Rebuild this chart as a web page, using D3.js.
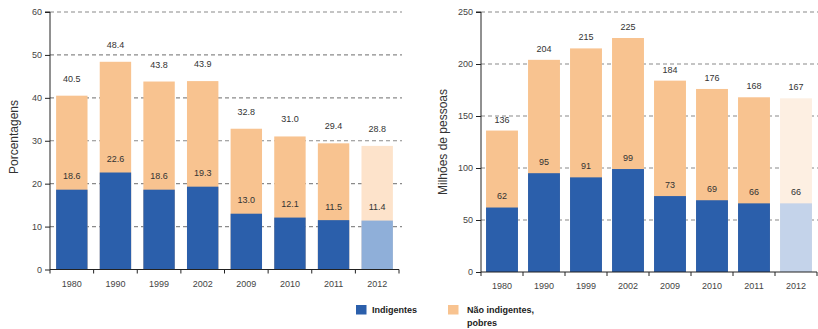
<!DOCTYPE html>
<html>
<head>
<meta charset="utf-8">
<script src="https://cdn.jsdelivr.net/npm/d3@7"></script>
<style>
  html, body { margin: 0; padding: 0; background: #fff; }
  svg { display: block; font-family: "Liberation Sans", Arial, sans-serif; }
</style>
</head>
<body>
<svg id="chart" width="818" height="329"></svg>
<script>
// Categories (years)
const years = ["1980", "1990", "1999", "2002", "2009", "2010", "2011", "2012"];

// Percentages of population
const pctIndigentes = [18.6, 22.6, 18.6, 19.3, 13.0, 12.1, 11.5, 11.4];
const pctPobresTotal = [40.5, 48.4, 43.8, 43.9, 32.8, 31.0, 29.4, 28.8];

// Millions of people
const milIndigentes = [62, 95, 91, 99, 73, 69, 66, 66];
const milPobresTotal = [136, 204, 215, 225, 184, 176, 168, 167];

// Axis ticks
const pctTicks = [0, 10, 20, 30, 40, 50, 60];
const milTicks = [0, 50, 100, 150, 200, 250];

// Labels
const pctFormat = d3.format(".1f");
const milFormat = d3.format("d");
const legendItems = [
  { key: "ind", lines: ["Indigentes"] },
  { key: "pob", lines: ["Não indigentes,", "pobres"] }
];

const COLORS = {
  ind: "#2b5fab",
  pob: "#f8c390",
  // projected year drawn in lighter tones (per panel)
  indProjLeft: "#8fafd9",
  pobProjLeft: "#fde3cb",
  indProjRight: "#c4d3ea",
  pobProjRight: "#fdefe2"
};

const svg = d3.select("#chart");

function drawPanel(opt) {
  const g = svg.append("g");
  const x = d3.scaleBand()
    .domain(years)
    .range([opt.x0, opt.x1])
    .paddingInner(opt.padInner)
    .paddingOuter(opt.padInner / 2);
  const y = d3.scaleLinear()
    .domain([0, opt.max])
    .range([opt.y0, opt.yTop]);

  // Dashed gridlines
  g.append("g").selectAll("line")
    .data(opt.ticks.filter(t => t > 0))
    .join("line")
    .attr("x1", opt.x0)
    .attr("x2", opt.gridEnd)
    .attr("y1", d => y(d))
    .attr("y2", d => y(d))
    .attr("stroke", "#8a8a8a")
    .attr("stroke-width", 1.2)
    .attr("stroke-dasharray", "4,3");

  const rows = years.map((yr, i) => ({
    yr, i,
    ind: opt.ind[i],
    tot: opt.tot[i],
    proj: i === years.length - 1
  }));

  // Poor (total) bars
  g.append("g").selectAll("rect")
    .data(rows)
    .join("rect")
    .attr("x", d => x(d.yr))
    .attr("width", x.bandwidth())
    .attr("y", d => y(d.tot))
    .attr("height", d => y(0) - y(d.tot))
    .attr("fill", d => d.proj ? opt.pobProj : COLORS.pob);

  // Indigent bars
  g.append("g").selectAll("rect")
    .data(rows)
    .join("rect")
    .attr("x", d => x(d.yr))
    .attr("width", x.bandwidth())
    .attr("y", d => y(d.ind))
    .attr("height", d => y(0) - y(d.ind))
    .attr("fill", d => d.proj ? opt.indProj : COLORS.ind);

  // Value labels
  const lbl = g.append("g")
    .attr("font-size", 9)
    .attr("fill", "#333")
    .attr("text-anchor", "middle");
  lbl.selectAll("text.tot")
    .data(rows)
    .join("text")
    .attr("class", "tot")
    .attr("x", d => x(d.yr) + x.bandwidth() / 2)
    .attr("y", d => y(d.tot) - opt.totOff)
    .text(d => opt.fmt(d.tot));
  lbl.selectAll("text.ind")
    .data(rows)
    .join("text")
    .attr("class", "ind")
    .attr("x", d => x(d.yr) + x.bandwidth() / 2)
    .attr("y", d => y(d.ind) - opt.indOff)
    .text(d => opt.fmt(d.ind));

  // Y axis
  const yAxis = g.append("g")
    .attr("transform", `translate(${opt.x0},0)`)
    .call(d3.axisLeft(y).tickValues(opt.ticks).tickSize(5).tickPadding(3).tickFormat(d3.format("d")));
  yAxis.select(".domain").attr("stroke", "#222").attr("d", `M-5,${y(opt.max)}H0V${y(0)}`);
  yAxis.selectAll(".tick line").attr("stroke", "#222");
  yAxis.selectAll("text").attr("font-size", 9).attr("fill", "#444").attr("font-family", null);

  // X axis: ticks at band boundaries, labels centered in bands
  const xg = g.append("g").attr("transform", `translate(0,${y(0)})`);
  xg.append("line")
    .attr("x1", opt.x0).attr("x2", opt.x1)
    .attr("stroke", "#222");
  const step = x.step();
  const bounds = d3.range(years.length + 1).map(i => opt.x0 + i * step);
  xg.selectAll("line.tk")
    .data(bounds)
    .join("line")
    .attr("class", "tk")
    .attr("x1", d => d).attr("x2", d => d)
    .attr("y1", 0).attr("y2", 4)
    .attr("stroke", "#222");
  xg.selectAll("text")
    .data(years)
    .join("text")
    .attr("x", d => x(d) + x.bandwidth() / 2)
    .attr("y", opt.xLabelDy)
    .attr("text-anchor", "middle")
    .attr("font-size", 9)
    .attr("fill", "#444")
    .text(d => d);

  // Y axis title
  g.append("text")
    .attr("transform", `translate(${opt.titleX},${opt.titleY}) rotate(-90)`)
    .attr("text-anchor", "middle")
    .attr("font-size", 12)
    .attr("fill", "#333")
    .text(opt.title);
}

drawPanel({
  x0: 50, x1: 399, gridEnd: 402,
  y0: 269.5, yTop: 12, max: 60,
  padInner: 0.28,
  ticks: pctTicks,
  ind: pctIndigentes, tot: pctPobresTotal,
  fmt: pctFormat,
  indProj: COLORS.indProjLeft, pobProj: COLORS.pobProjLeft,
  totOff: 14, indOff: 10.5,
  xLabelDy: 17.5,
  title: "Porcentagens", titleX: 18, titleY: 137
});

drawPanel({
  x0: 481, x1: 817, gridEnd: 818,
  y0: 272, yTop: 12, max: 250,
  padInner: 0.24,
  ticks: milTicks,
  ind: milIndigentes, tot: milPobresTotal,
  fmt: milFormat,
  indProj: COLORS.indProjRight, pobProj: COLORS.pobProjRight,
  totOff: 8, indOff: 8.5,
  xLabelDy: 17,
  title: "Milhões de pessoas", titleX: 447, titleY: 142
});

// Legend
const legend = svg.append("g")
  .attr("font-size", 9)
  .attr("font-weight", "bold")
  .attr("fill", "#222");
const legendPos = [{ x: 356, y: 305 }, { x: 448, y: 305 }];
legendItems.forEach((it, i) => {
  const p = legendPos[i];
  legend.append("rect")
    .attr("x", p.x).attr("y", p.y)
    .attr("width", 10.5).attr("height", 9.5)
    .attr("fill", COLORS[it.key]);
  it.lines.forEach((ln, j) => {
    legend.append("text")
      .attr("x", p.x + (i === 0 ? 16 : 19))
      .attr("y", p.y + 8 + j * 12.5)
      .text(ln);
  });
});
</script>
</body>
</html>
